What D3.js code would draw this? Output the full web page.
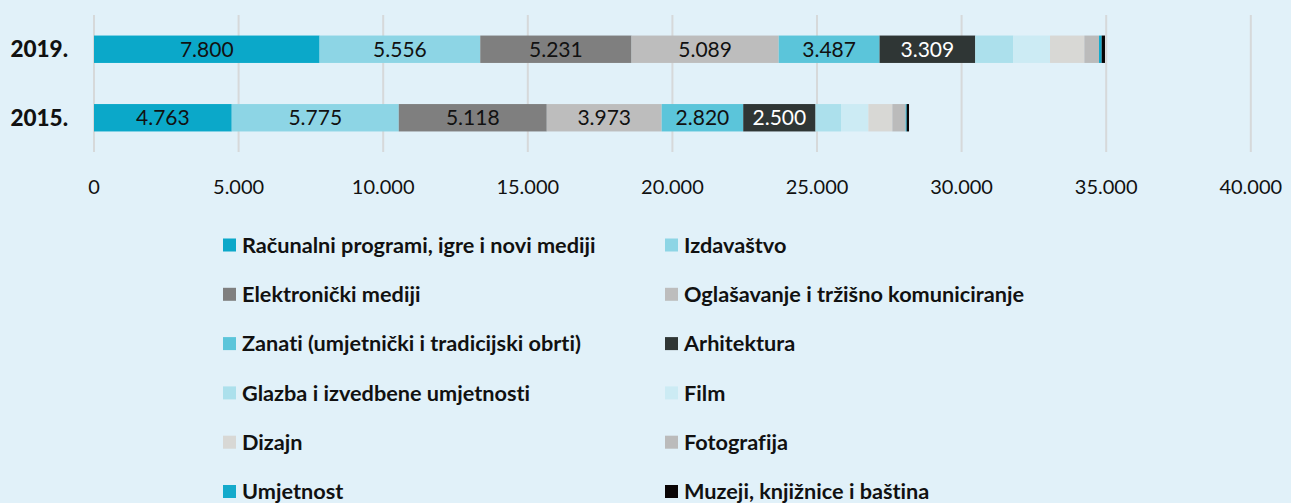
<!DOCTYPE html>
<html><head><meta charset="utf-8">
<script src="https://cdn.jsdelivr.net/npm/d3@7"></script>
<style>
html,body{margin:0;padding:0;background:#E1F1F9;}
svg{display:block;}
text{font-family:Lato,"Open Sans",sans-serif;font-variant-ligatures:none;font-feature-settings:"liga" 0,"clig" 0;}
</style></head>
<body><svg id="c" width="1291" height="503"></svg>
<script>
const years = ["2019.", "2015."];
const series = ["Računalni programi, igre i novi mediji","Izdavaštvo","Elektronički mediji","Oglašavanje i tržišno komuniciranje","Zanati (umjetnički i tradicijski obrti)","Arhitektura","Glazba i izvedbene umjetnosti","Film","Dizajn","Fotografija","Umjetnost","Muzeji, knjižnice i baština"];
const colors = ["#0BA8C9","#8DD5E5","#7F7F7F","#BDBDBD","#5BC5DA","#2F3635","#ACE0EC","#CCEBF4","#D8D8D5","#BBBBBB","#14AACB","#0A0505"];
const values2019 = [7800,5556,5231,5089,3487,3309,1316,1269,1186,508,93,114];
const values2015 = [4763,5775,5118,3973,2820,2500,881,945,829,463,35,80];
const labeled = [true,true,true,true,true,true,false,false,false,false,false,false];
const labelColors = ["#111","#111","#111","#111","#111","#fff"];
const ticks = [0,5000,10000,15000,20000,25000,30000,35000,40000];
const tickLabels = ["0","5.000","10.000","15.000","20.000","25.000","30.000","35.000","40.000"];

const svg = d3.select("#c");
const x = d3.scaleLinear().domain([0,40000]).range([94,1250.8]);
const y = d3.scaleBand().domain(years).range([15,152]).paddingInner(0.6).paddingOuter(0.3);

svg.append("g").selectAll("line").data(ticks).join("line")
  .attr("x1",d=>x(d)).attr("x2",d=>x(d)).attr("y1",15).attr("y2",152)
  .attr("stroke","#D6D9DA").attr("stroke-width",2);

const data = [values2019, values2015];
data.forEach((vals,i)=>{
  let cum=0;
  const g = svg.append("g");
  vals.forEach((v,j)=>{
    const x0=x(cum), x1=x(cum+v);
    g.append("rect").attr("x",x0).attr("width",x1-x0)
     .attr("y",y(years[i])).attr("height",y.bandwidth()).attr("fill",colors[j]);
    if(labeled[j]){
      g.append("text").attr("x",(x0+x1)/2).attr("y",y(years[i])+y.bandwidth()/2)
       .attr("dy","0.36em").attr("text-anchor","middle").attr("font-size",21)
       .attr("fill",labelColors[j]).text(d3.format(",")(v).replace(/,/g,"."));
    }
    cum+=v;
  });
  svg.append("text").attr("x",68).attr("y",y(years[i])+y.bandwidth()/2).attr("dy","0.36em")
    .attr("text-anchor","end").attr("font-weight","900").attr("font-size",22.5).attr("fill","#111").text(years[i]);
});

svg.append("g").selectAll("text").data(ticks).join("text")
  .attr("x",d=>x(d)).attr("y",187).attr("dy","0.36em").attr("text-anchor","middle")
  .attr("font-size",20).attr("fill","#111").text((d,i)=>tickLabels[i]);

const leg = svg.append("g");
series.forEach((s,i)=>{
  const col=i%2, row=Math.floor(i/2);
  const lx = col===0?223:665, ly = 245+row*49.3;
  leg.append("rect").attr("x",lx).attr("y",ly-6.5).attr("width",13).attr("height",13).attr("fill",colors[i]);
  leg.append("text").attr("x",lx+19).attr("y",ly).attr("dy","0.36em").attr("font-weight","bold")
    .attr("font-size",21.7).attr("fill","#111").text(s);
});
</script></body></html>
